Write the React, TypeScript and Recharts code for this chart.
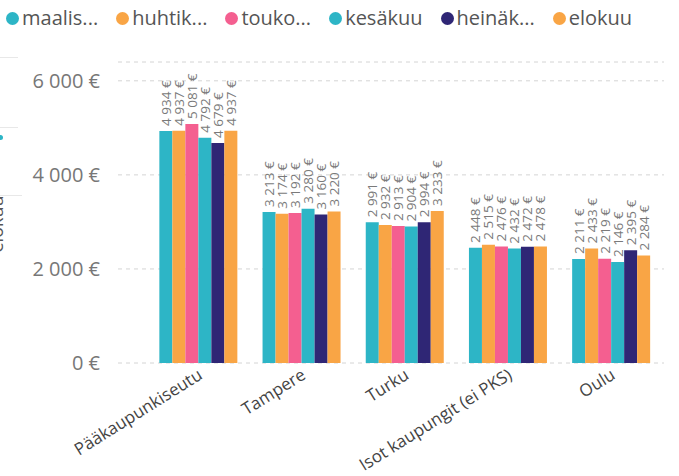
import React from 'react';
import { BarChart, Bar, XAxis, YAxis, CartesianGrid, LabelList } from 'recharts';

const categories = ['Pääkaupunkiseutu', 'Tampere', 'Turku', 'Isot kaupungit (ei PKS)', 'Oulu'];
const seriesKeys = ['maaliskuu', 'huhtikuu', 'toukokuu', 'kesäkuu', 'heinäkuu', 'elokuu'];
const legendLabels = ['maalis...', 'huhtik...', 'touko...', 'kesäkuu', 'heinäk...', 'elokuu'];
const seriesColors = ['#2DB5C6', '#F9A545', '#F45F90', '#2DB5C6', '#2F2675', '#F9A545'];

const maaliskuu = [4934, 3213, 2991, 2448, 2211];
const huhtikuu = [4937, 3174, 2932, 2515, 2433];
const toukokuu = [5081, 3192, 2913, 2476, 2219];
const kesakuu = [4792, 3280, 2904, 2432, 2146];
const heinakuu = [4679, 3160, 2994, 2472, 2395];
const elokuu = [4937, 3220, 3233, 2478, 2284];

const yTicks = [0, 2000, 4000, 6000];

const seriesValues = [maaliskuu, huhtikuu, toukokuu, kesakuu, heinakuu, elokuu];

const data = categories.map((c, i) => {
  const row: any = { name: c };
  seriesKeys.forEach((k, s) => {
    row[k] = seriesValues[s][i];
  });
  return row;
});

const fmt = (v: number) => {
  const s = String(Math.round(v));
  return s.replace(/\B(?=(\d{3})+(?!\d))/g, ' ') + ' €';
};

const FONT = '"Open Sans", "Noto Sans", sans-serif';

const DataLabel = (props: any) => {
  const { x, y, width, value } = props;
  const cx = x + width / 2;
  const ty = y - 5;
  return (
    <text
      x={cx}
      y={ty}
      transform={`rotate(-90, ${cx}, ${ty})`}
      textAnchor="start"
      dominantBaseline="central"
      fontSize={13.5}
      fontFamily={FONT}
      fill="#7a7a7a"
    >
      {fmt(value)}
    </text>
  );
};

const XTick = (props: any) => {
  const { x, y, payload } = props;
  return (
    <g transform={`translate(${x + 4},${y + 7})`}>
      <text
        x={0}
        y={0}
        textAnchor="end"
        transform="rotate(-32)"
        fontSize={17}
        fontFamily={FONT}
        fill="#444444"
      >
        {payload.value}
      </text>
    </g>
  );
};

export default function App() {
  return (
    <div style={{ position: 'absolute', left: 0, top: 0, width: 679, height: 476, background: '#fff', overflow: 'hidden', fontFamily: FONT }}>
      {/* legend */}
      <div style={{ position: 'absolute', left: 6, top: 4, display: 'flex', alignItems: 'center', whiteSpace: 'nowrap' }}>
        {legendLabels.map((l, i) => (
          <div key={i} style={{ display: 'flex', alignItems: 'center', marginRight: 18 }}>
            <span style={{ display: 'inline-block', width: 13, height: 13, borderRadius: 7, background: seriesColors[i], marginRight: 3 }} />
            <span style={{ fontSize: 20, color: '#555555', lineHeight: '28px' }}>{l}</span>
          </div>
        ))}
      </div>
      {/* cropped slicer remnants on the left */}
      <div style={{ position: 'absolute', left: 0, top: 57, width: 18, height: 1, background: '#e8e8e8' }} />
      <div style={{ position: 'absolute', left: 0, top: 127, width: 18, height: 1, background: '#e8e8e8' }} />
      <div style={{ position: 'absolute', left: 0, top: 195, width: 22, height: 1, background: '#e8e8e8' }} />
      <div style={{ position: 'absolute', left: -2, top: 135, width: 5, height: 5, borderRadius: 3, background: '#2DB5C6' }} />
      <div style={{ position: 'absolute', left: -34, top: 209, width: 60, height: 30 }}>
        <div style={{ transform: 'rotate(-90deg)', transformOrigin: 'center', fontSize: 18, color: '#555', whiteSpace: 'nowrap', textAlign: 'center', width: 60, lineHeight: '30px' }}>elokuu</div>
      </div>
      <div style={{ position: 'absolute', left: 0, top: 0 }}>
        <BarChart
          width={679}
          height={476}
          data={data}
          margin={{ top: 62, right: 15, bottom: 13, left: 0 }}
          barCategoryGap="11%"
          barGap={0}
        >
          <CartesianGrid vertical={false} stroke="#d4d4d4" strokeDasharray="4 4" />
          <XAxis
            dataKey="name"
            tick={<XTick />}
            tickLine={false}
            axisLine={false}
            interval={0}
            height={100}
            padding={{ left: 30, right: 0 }}
          />
          <YAxis
            width={118}
            domain={[0, 6400]}
            ticks={yTicks}
            tickFormatter={fmt}
            tickLine={false}
            axisLine={false}
            tick={{ fontSize: 20, fill: '#777777', fontFamily: FONT }}
            tickMargin={12}
          />
          {seriesKeys.map((k, i) => (
            <Bar key={k} dataKey={k} fill={seriesColors[i]} isAnimationActive={false}>
              <LabelList dataKey={k} content={<DataLabel />} />
            </Bar>
          ))}
        </BarChart>
      </div>
    </div>
  );
}
